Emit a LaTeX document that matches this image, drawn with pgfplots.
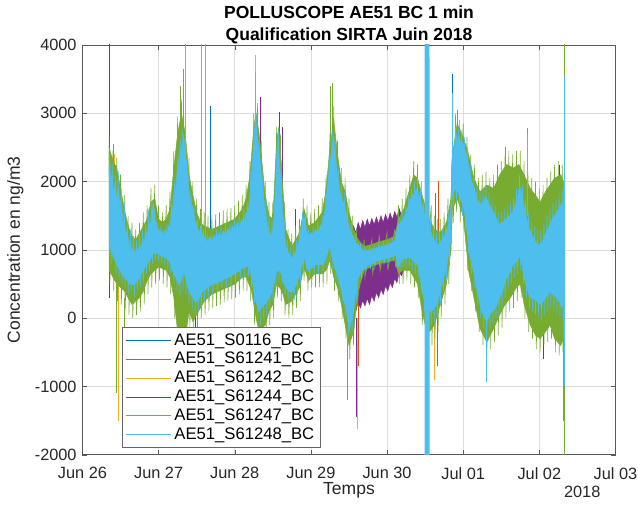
\documentclass[border=0pt]{standalone}
\usepackage{fontspec}
\setmainfont{Liberation Sans}
\usepackage{pgfplots}
\pgfplotsset{compat=1.18}
\definecolor{mBlue}{rgb}{0,0.447,0.741}
\definecolor{mOrange}{rgb}{0.85,0.325,0.098}
\definecolor{mYellow}{rgb}{0.929,0.694,0.125}
\definecolor{mPurple}{rgb}{0.494,0.184,0.556}
\definecolor{mGreen}{rgb}{0.466,0.674,0.188}
\definecolor{mCyan}{rgb}{0.301,0.745,0.933}
\begin{document}
\begin{tikzpicture}
\path[use as bounding box] (-49.5pt,-30pt) rectangle (333.5pt,273pt);
\begin{axis}[
 at={(0pt,0pt)}, anchor=south west,
 scale only axis, width=320pt, height=246pt,
 xmin=0, xmax=7, ymin=-2000, ymax=4000,
 xtick={0,1,2,3,4,5,6,7},
 xticklabels={Jun 26,Jun 27,Jun 28,Jun 29,Jun 30,Jul 01,Jul 02,Jul 03},
 ytick={-2000,-1000,0,1000,2000,3000,4000},
 yticklabels={-2000,-1000,0,1000,2000,3000,4000},
 grid=major, major grid style={black!13, line width=0.4pt},
 tick align=inside, major tick length=3pt,
 axis line style={black!65}, tick style={black!65},
 ticklabel style={font=\fontsize{9.8}{12}\selectfont, text=black!85},
 xticklabel style={yshift=-4pt},
 xlabel={Temps}, ylabel={Concentration en ng/m3},
 label style={font=\fontsize{10.5}{12}\selectfont, text=black!85},
 xlabel style={yshift=5pt},
 title={POLLUSCOPE AE51 BC 1 min\\Qualification SIRTA Juin 2018},
 title style={font=\bfseries\fontsize{10.5}{13}\selectfont, align=center, yshift=-9pt},
 legend style={at={(0.075,0.017)}, anchor=south west, font=\fontsize{10}{11.5}\selectfont, draw=black!60, inner sep=1.5pt, row sep=-1.2pt},
 legend cell align=left,
 legend image code/.code={\draw[#1, line width=0.5pt] (0pt,0pt) -- (27pt,0pt);},
 unbounded coords=jump,
 clip=true,
]
% ---- blue S0116 spikes
\addplot[mBlue, line width=0.45pt, forget plot] coordinates {
(0.36,1500)(0.36,2400)(0.36,nan)
(1.68,1200)(1.68,3100)(1.68,nan)
(4.86,2000)(4.86,3580)(4.86,nan)
(5.72,600)(5.72,2100)(5.72,nan)
(6.33,300)(6.33,5000)};
% ---- orange S61241 spikes
\addplot[mOrange, line width=0.45pt, forget plot] coordinates {
(0.355,300)(0.355,5000)(0.355,nan)
(3.62,400)(3.62,-700)(3.62,nan)
(4.63,500)(4.63,1830)(4.63,nan)
(4.68,500)(4.68,2010)(4.68,nan)
(4.66,300)(4.66,-700)(4.66,nan)
(6.335,3000)(6.335,5000)};
% ---- yellow S61242 spikes
\addplot[mYellow, line width=0.45pt, forget plot] coordinates {
(0.47,800)(0.47,-1500)(0.47,nan)
(0.42,1500)(0.42,2400)(0.42,nan)
(2.27,2500)(2.27,3850)(2.27,nan)
(3.61,0)(3.61,-1630)(3.61,nan)
(4.62,300)(4.62,-900)};
% ---- purple S61244
\addplot[mPurple, fill=mPurple, line width=0.3pt, forget plot] coordinates {
(3.50,1300)(3.53,1200)(3.56,1350)(3.59,1250)(3.62,1400)(3.65,1300)(3.68,1430)(3.71,1330)(3.74,1450)(3.77,1350)(3.80,1460)(3.83,1370)(3.86,1480)(3.89,1380)(3.92,1500)(3.95,1400)(3.98,1520)(4.01,1420)(4.04,1540)(4.07,1440)(4.10,1560)(4.13,1480)(4.16,1600)(4.19,1500)(4.22,1550)
(4.22,700)(4.19,620)(4.16,680)(4.13,520)(4.10,580)(4.07,450)(4.04,520)(4.01,400)(3.98,470)(3.95,350)(3.92,420)(3.89,300)(3.86,380)(3.83,250)(3.80,330)(3.77,200)(3.74,290)(3.71,180)(3.68,260)(3.65,150)(3.62,230)(3.59,100)(3.56,200)(3.53,50)(3.50,150)} -- cycle;
\addplot[mPurple, line width=0.45pt, forget plot] coordinates {
(0.36,300)(0.36,5000)(0.36,nan)
(1.42,700)(1.42,1900)(1.42,nan)
(2.33,1500)(2.33,3240)(2.33,nan)
(2.58,1500)(2.58,3020)(2.58,nan)
(2.62,1500)(2.62,2800)(2.62,nan)
(2.80,1000)(2.80,1600)(2.80,nan)
(3.60,0)(3.60,-1450)(3.60,nan)
(1.48,200)(1.48,-300)(1.48,nan)
(5.62,1500)(5.62,2150)(5.62,nan)
(6.20,1500)(6.20,2200)(6.20,nan)
(6.26,1500)(6.26,2250)(6.26,nan)
(6.05,0)(6.05,-600)};
% ---- green S61247
\addplot[mGreen, fill=mGreen, line width=0.3pt, forget plot] coordinates {
(0.35,2500)(0.40,2300)(0.45,2200)(0.50,1900)(0.55,1600)(0.60,1350)(0.65,1200)(0.70,1150)(0.75,1250)(0.80,1350)(0.85,1450)(0.90,1700)(0.95,1750)(1.00,1450)(1.05,1400)(1.10,1450)(1.15,1600)(1.20,2200)(1.25,2700)(1.30,3000)(1.35,2700)(1.40,2100)(1.45,1800)(1.50,1550)(1.55,1400)(1.60,1350)(1.70,1300)(1.80,1350)(1.90,1400)(2.00,1450)(2.10,1600)(2.15,1750)(2.20,2100)(2.25,2800)(2.28,3000)(2.32,2700)(2.40,1800)(2.45,1500)(2.50,1450)(2.55,2600)(2.58,2800)(2.62,2100)(2.67,1300)(2.75,1050)(2.85,1250)(2.91,1600)(2.97,1350)(3.05,1400)(3.15,1550)(3.20,1900)(3.25,2500)(3.30,2900)(3.35,2400)(3.40,2000)(3.45,1850)(3.50,1550)(3.56,1300)(3.62,1150)(3.70,1050)(3.80,1080)(3.90,1120)(4.00,1150)(4.10,1200)(4.15,1450)(4.22,1600)(4.30,1900)(4.35,2100)(4.40,2050)(4.46,1800)(4.50,1650)(4.56,1450)(4.62,1300)(4.70,1250)(4.78,1400)(4.84,1750)(4.86,2400)(4.92,2850)(5.00,2650)(5.07,2400)(5.14,2050)(5.22,1850)(5.31,1950)(5.40,1900)(5.48,2100)(5.57,2250)(5.66,2200)(5.73,2250)(5.80,2100)(5.88,1900)(5.95,1800)(6.01,1700)(6.08,1850)(6.14,1950)(6.20,2050)(6.28,2100)(6.32,2000)
(6.32,-300)(6.28,-400)(6.20,-300)(6.14,-100)(6.08,-200)(6.01,-300)(5.95,-250)(5.88,-100)(5.80,200)(5.75,500)(5.70,450)(5.62,300)(5.55,200)(5.48,50)(5.40,-150)(5.31,-350)(5.22,-150)(5.14,300)(5.07,700)(5.00,1500)(4.92,1750)(4.86,1600)(4.84,1000)(4.78,500)(4.70,200)(4.62,-100)(4.56,-200)(4.50,-100)(4.46,100)(4.40,500)(4.30,700)(4.20,700)(4.15,650)(4.10,850)(4.00,820)(3.90,800)(3.80,760)(3.70,700)(3.62,400)(3.56,-200)(3.50,-400)(3.45,-100)(3.40,200)(3.35,450)(3.30,600)(3.25,850)(3.20,700)(3.15,650)(3.05,650)(2.97,550)(2.91,750)(2.85,450)(2.75,250)(2.67,200)(2.62,400)(2.55,500)(2.50,200)(2.45,100)(2.40,-100)(2.32,-200)(2.28,0)(2.22,400)(2.15,600)(2.10,600)(2.00,500)(1.90,450)(1.80,400)(1.70,350)(1.60,250)(1.50,50)(1.45,-50)(1.40,100)(1.35,-300)(1.30,-600)(1.25,-200)(1.20,300)(1.15,600)(1.10,700)(1.00,750)(0.95,700)(0.90,650)(0.85,550)(0.80,400)(0.75,300)(0.70,250)(0.65,200)(0.60,300)(0.55,400)(0.50,450)(0.45,500)(0.40,600)(0.35,700)} -- cycle;
\addplot[mGreen, line width=0.35pt, forget plot] coordinates {
(0.35,2650)(0.36,500)(0.40,2450)(0.41,400)(0.45,2350)(0.46,250)(0.50,2100)(0.51,200)(0.55,1800)(0.56,100)(0.60,1500)(0.61,50)(0.65,1400)(0.66,0)(0.70,1300)(0.71,50)(0.75,1400)(0.76,100)(0.80,1550)(0.81,200)(0.85,1650)(0.86,350)(0.90,1900)(0.91,450)(0.95,1950)(0.96,500)(1.00,1650)(1.01,550)(1.05,1550)(1.06,500)(1.10,1650)(1.11,450)(1.15,1850)(1.16,350)(1.20,2450)(1.21,0)(1.25,2950)(1.26,-450)(1.30,3200)(1.31,-800)(1.35,2950)(1.36,-500)(1.40,2350)(1.41,-150)(1.45,2000)(1.46,-250)(1.50,1750)(1.51,-150)(1.55,1600)(1.56,0)(1.60,1550)(1.61,50)(1.65,1500)(1.66,100)(1.70,1500)(1.71,150)(1.75,1520)(1.76,180)(1.80,1550)(1.81,200)(1.85,1580)(1.86,230)(1.90,1600)(1.91,250)(1.95,1620)(1.96,280)(2.00,1650)(2.01,300)(2.05,1720)(2.06,350)(2.10,1800)(2.11,400)(2.15,1950)(2.16,400)(2.20,2300)(2.21,250)(2.25,3000)(2.26,-100)(2.30,3150)(2.31,-400)(2.35,2600)(2.36,-350)(2.40,2000)(2.41,-300)(2.45,1700)(2.46,-100)(2.50,1700)(2.51,0)(2.55,2800)(2.56,300)(2.60,2700)(2.61,250)(2.65,1700)(2.66,50)(2.70,1300)(2.71,0)(2.75,1250)(2.76,50)(2.80,1350)(2.81,150)(2.85,1450)(2.86,250)(2.90,1750)(2.91,550)(2.95,1650)(2.96,400)(3.00,1550)(3.01,450)(3.05,1600)(3.06,450)(3.10,1650)(3.11,450)(3.15,1750)(3.16,450)(3.20,2100)(3.21,500)(3.25,2700)(3.26,650)(3.30,3100)(3.31,400)(3.35,2600)(3.36,250)(3.40,2200)(3.41,0)(3.45,2050)(3.46,-300)(3.50,1750)(3.51,-600)(3.55,1500)(3.56,-400)(3.60,1300)(3.61,200)(3.70,1150)(3.71,600)(3.80,1150)(3.81,650)(3.90,1200)(3.91,700)(4.00,1250)(4.01,700)(4.10,1300)(4.11,750)(4.15,1650)(4.16,500)(4.20,1750)(4.21,500)(4.25,1900)(4.26,550)(4.30,2100)(4.31,500)(4.35,2300)(4.36,450)(4.40,2250)(4.41,300)(4.45,2000)(4.46,-100)(4.58,1650)(4.59,-400)(4.62,1500)(4.63,-300)(4.66,1450)(4.67,-200)(4.70,1450)(4.71,0)(4.75,1550)(4.76,200)(4.80,1750)(4.81,500)(4.86,2600)(4.87,1400)(4.90,3000)(4.91,1550)(4.95,2900)(4.96,1400)(5.00,2850)(5.01,1300)(5.05,2650)(5.06,700)(5.10,2400)(5.11,400)(5.15,2250)(5.16,100)(5.20,2050)(5.21,-200)(5.25,2100)(5.26,-400)(5.30,2150)(5.31,-550)(5.35,2050)(5.36,-450)(5.40,2100)(5.41,-350)(5.45,2250)(5.46,-250)(5.50,2300)(5.51,-150)(5.55,2400)(5.56,0)(5.60,2450)(5.61,100)(5.65,2400)(5.66,150)(5.70,2450)(5.71,250)(5.75,2450)(5.76,300)(5.80,2300)(5.81,0)(5.85,2150)(5.86,-200)(5.90,2050)(5.91,-300)(5.95,2000)(5.96,-450)(6.00,1900)(6.01,-500)(6.05,1950)(6.06,-400)(6.10,2050)(6.11,-350)(6.15,2150)(6.16,-300)(6.20,2250)(6.21,-500)(6.25,2300)(6.26,-550)(6.30,2250)(6.31,-500)};
\addplot[mGreen, line width=0.45pt, forget plot] coordinates {
(0.40,2000)(0.40,2550)(0.40,nan)
(0.45,500)(0.45,-1100)(0.45,nan)
(0.55,300)(0.55,-900)(0.55,nan)
(1.30,-500)(1.30,-1000)(1.30,nan)
(1.33,2000)(1.33,3650)(1.33,nan)
(1.28,2000)(1.28,3400)(1.28,nan)
(2.35,0)(2.35,-700)(2.35,nan)
(3.25,2000)(3.25,3400)(3.25,nan)
(3.28,2000)(3.28,3450)(3.28,nan)
(3.48,-300)(3.48,-1200)(3.48,nan)
(4.92,2500)(4.92,3050)(4.92,nan)
(5.84,1500)(5.84,2780)(5.84,nan)
(5.55,1800)(5.55,2500)(5.55,nan)
(6.31,-300)(6.31,-1500)(6.31,nan)
(6.332,-3000)(6.332,5000)};
% ---- cyan S61248
\addplot[mCyan, fill=mCyan, line width=0.3pt, forget plot] coordinates {
(0.35,2250)(0.36,1900)(0.37,2150)(0.38,1850)(0.39,2100)(0.41,1800)(0.43,2000)(0.45,1700)(0.47,1950)(0.49,1650)(0.51,1750)(0.53,1400)(0.55,1450)(0.57,1200)(0.59,1300)(0.61,1050)(0.63,1150)(0.65,950)(0.67,1050)(0.69,920)(0.71,1050)(0.73,950)(0.75,1100)(0.77,1000)(0.79,1180)(0.81,1080)(0.83,1300)(0.85,1200)(0.87,1450)(0.89,1350)(0.91,1550)(0.93,1700)(0.95,1450)(0.97,1400)(0.99,1250)(1.01,1300)(1.03,1200)(1.05,1280)(1.07,1180)(1.09,1300)(1.11,1200)(1.13,1350)(1.15,1300)(1.17,1650)(1.19,1550)(1.21,2000)(1.23,1850)(1.25,2350)(1.27,2200)(1.29,2600)(1.31,2450)(1.33,2700)(1.35,2350)(1.37,2300)(1.39,1900)(1.41,1850)(1.43,1600)(1.45,1650)(1.47,1400)(1.49,1420)(1.51,1250)(1.53,1300)(1.55,1180)(1.57,1250)(1.59,1150)(1.61,1200)(1.64,1100)(1.67,1200)(1.70,1120)(1.73,1220)(1.76,1150)(1.79,1250)(1.82,1180)(1.85,1280)(1.88,1200)(1.91,1320)(1.94,1250)(1.97,1350)(2.00,1280)(2.03,1400)(2.06,1330)(2.09,1450)(2.12,1400)(2.15,1550)(2.17,1500)(2.19,1700)(2.21,1900)(2.23,2300)(2.25,2600)(2.27,2900)(2.29,2700)(2.31,2550)(2.33,2350)(2.35,2100)(2.37,1900)(2.39,1650)(2.41,1500)(2.43,1350)(2.45,1300)(2.47,1200)(2.49,1250)(2.51,1400)(2.53,1700)(2.55,2400)(2.57,2650)(2.59,2200)(2.61,2000)(2.63,1550)(2.65,1250)(2.67,1080)(2.69,1000)(2.71,950)(2.73,900)(2.75,880)(2.77,920)(2.79,950)(2.81,1000)(2.83,1080)(2.85,1150)(2.87,1300)(2.89,1400)(2.91,1500)(2.93,1380)(2.95,1250)(2.97,1180)(3.00,1250)(3.03,1200)(3.06,1300)(3.09,1250)(3.12,1350)(3.15,1380)(3.18,1550)(3.20,1750)(3.22,1950)(3.24,2150)(3.26,2350)(3.28,2550)(3.30,2650)(3.32,2400)(3.34,2200)(3.36,2000)(3.38,1850)(3.40,1800)(3.42,1700)(3.44,1680)(3.46,1550)(3.48,1450)(3.50,1350)(3.53,1250)(3.56,1180)(3.59,1100)(3.62,1080)(3.65,1030)(3.68,1000)(3.71,980)(3.74,1000)(3.77,970)(3.80,1020)(3.83,990)(3.86,1040)(3.89,1010)(3.92,1060)(3.95,1030)(3.98,1080)(4.01,1050)(4.04,1100)(4.07,1080)(4.10,1130)(4.12,1200)(4.14,1380)(4.16,1350)(4.18,1420)(4.20,1400)(4.22,1480)(4.24,1500)(4.26,1600)(4.28,1650)(4.30,1750)(4.32,1720)(4.34,1820)(4.36,1800)(4.38,1900)(4.40,1880)(4.42,1800)(4.44,1750)(4.46,1650)(4.48,1550)(4.50,1500)(4.56,1300)(4.58,1250)(4.60,1180)(4.62,1150)(4.64,1100)(4.66,1070)(4.68,1100)(4.70,1120)(4.72,1150)(4.74,1180)(4.76,1230)(4.78,1280)(4.80,1350)(4.82,1450)(4.84,1650)(4.85,2250)(4.87,2400)(4.89,2550)(4.91,2700)(4.93,2600)(4.95,2650)(4.97,2550)(4.99,2580)(5.01,2500)(5.03,2450)(5.05,2350)(5.07,2250)(5.09,2100)(5.11,2000)(5.13,1950)(5.15,1880)(5.17,1800)(5.19,1720)(5.21,1680)(5.23,1650)(5.25,1700)(5.27,1720)(5.29,1780)(5.31,1750)(5.33,1700)(5.35,1650)(5.37,1600)(5.39,1570)(5.41,1520)(5.43,1480)(5.45,1420)(5.47,1380)(5.50,1390)(5.53,1420)(5.56,1450)(5.59,1480)(5.62,1520)(5.65,1560)(5.68,1650)(5.71,1750)(5.73,1880)(5.75,1900)(5.77,1800)(5.79,1700)(5.81,1600)(5.83,1480)(5.85,1380)(5.87,1300)(5.90,1220)(5.93,1150)(5.96,1100)(5.99,1080)(6.02,1080)(6.05,1150)(6.08,1230)(6.11,1300)(6.14,1380)(6.17,1450)(6.20,1500)(6.23,1550)(6.26,1620)(6.29,1680)(6.32,1700)
(6.32,200)(6.29,150)(6.26,250)(6.23,300)(6.20,320)(6.17,350)(6.14,390)(6.11,330)(6.08,300)(6.05,250)(6.02,200)(5.99,220)(5.96,250)(5.93,280)(5.90,290)(5.87,320)(5.85,400)(5.83,450)(5.81,550)(5.79,650)(5.77,800)(5.75,930)(5.73,880)(5.71,850)(5.68,800)(5.65,780)(5.62,680)(5.59,620)(5.56,560)(5.53,450)(5.50,350)(5.47,280)(5.45,220)(5.43,180)(5.41,120)(5.39,100)(5.37,80)(5.35,50)(5.33,0)(5.31,-50)(5.29,-20)(5.27,30)(5.25,80)(5.23,150)(5.21,250)(5.19,350)(5.17,450)(5.15,600)(5.13,700)(5.11,800)(5.09,900)(5.07,1050)(5.05,1250)(5.03,1450)(5.01,1600)(4.99,1680)(4.97,1720)(4.95,1780)(4.93,1850)(4.91,1900)(4.89,1880)(4.87,1820)(4.85,1750)(4.84,1200)(4.82,1000)(4.80,880)(4.78,750)(4.76,650)(4.74,580)(4.72,480)(4.70,400)(4.68,300)(4.66,200)(4.64,180)(4.62,150)(4.60,120)(4.58,100)(4.56,100)(4.50,200)(4.48,300)(4.46,400)(4.44,550)(4.42,680)(4.40,780)(4.38,800)(4.36,820)(4.34,850)(4.32,870)(4.30,880)(4.28,890)(4.26,880)(4.24,870)(4.22,880)(4.20,860)(4.18,820)(4.16,780)(4.14,740)(4.12,920)(4.10,910)(4.07,900)(4.04,890)(4.01,880)(3.98,870)(3.95,860)(3.92,850)(3.89,840)(3.86,830)(3.83,810)(3.80,790)(3.77,780)(3.74,760)(3.71,730)(3.68,700)(3.65,650)(3.62,580)(3.59,400)(3.56,100)(3.53,-50)(3.50,-200)(3.48,0)(3.46,150)(3.44,220)(3.42,300)(3.40,400)(3.38,500)(3.36,580)(3.34,650)(3.32,720)(3.30,780)(3.28,880)(3.26,1000)(3.24,1050)(3.22,950)(3.20,900)(3.18,820)(3.15,780)(3.12,790)(3.09,780)(3.06,780)(3.03,750)(3.00,730)(2.97,680)(2.95,750)(2.93,820)(2.91,880)(2.89,800)(2.87,720)(2.85,620)(2.83,560)(2.81,500)(2.79,450)(2.77,400)(2.75,390)(2.73,390)(2.71,400)(2.69,420)(2.67,450)(2.65,500)(2.63,550)(2.61,650)(2.59,680)(2.57,700)(2.55,680)(2.53,580)(2.51,480)(2.49,390)(2.47,330)(2.45,300)(2.43,260)(2.41,220)(2.39,200)(2.37,170)(2.35,150)(2.33,120)(2.31,100)(2.29,200)(2.27,280)(2.25,390)(2.23,550)(2.21,650)(2.19,750)(2.17,760)(2.15,750)(2.12,740)(2.09,720)(2.06,690)(2.03,670)(2.00,650)(1.97,630)(1.94,610)(1.91,590)(1.88,580)(1.85,560)(1.82,540)(1.79,530)(1.76,510)(1.73,500)(1.70,490)(1.67,470)(1.64,450)(1.61,420)(1.59,400)(1.57,380)(1.55,320)(1.53,280)(1.51,250)(1.49,240)(1.47,260)(1.45,300)(1.43,330)(1.41,380)(1.39,420)(1.37,500)(1.35,600)(1.33,680)(1.31,600)(1.29,520)(1.27,490)(1.25,530)(1.23,580)(1.21,620)(1.19,670)(1.17,720)(1.15,820)(1.13,850)(1.11,870)(1.09,880)(1.07,900)(1.05,910)(1.03,920)(1.01,930)(0.99,940)(0.97,950)(0.95,960)(0.93,940)(0.91,900)(0.89,860)(0.87,820)(0.85,790)(0.83,760)(0.81,720)(0.79,680)(0.77,640)(0.75,590)(0.73,560)(0.71,530)(0.69,510)(0.67,490)(0.65,490)(0.63,500)(0.61,520)(0.59,550)(0.57,580)(0.55,600)(0.53,630)(0.51,660)(0.49,700)(0.47,740)(0.45,780)(0.43,840)(0.41,900)(0.39,950)(0.37,1000)(0.35,1070)} -- cycle;
\addplot[mCyan, line width=0.35pt, forget plot] coordinates {
(0.35,2400)(0.36,900)(0.37,2250)(0.38,800)(0.39,2300)(0.40,850)(0.43,2100)(0.44,650)(0.47,2150)(0.48,600)(0.51,1900)(0.52,500)(0.55,1700)(0.56,450)(0.59,1400)(0.60,350)(0.63,1300)(0.64,400)(0.67,1200)(0.68,300)(0.71,1150)(0.72,420)(0.75,1250)(0.76,450)(0.79,1300)(0.80,520)(0.83,1400)(0.84,650)(0.87,1600)(0.88,700)(0.91,1700)(0.92,800)(0.95,1600)(0.96,850)(0.99,1400)(1.00,820)(1.03,1350)(1.04,800)(1.07,1300)(1.08,780)(1.11,1380)(1.12,700)(1.15,1450)(1.16,650)(1.19,1800)(1.20,500)(1.23,2100)(1.24,400)(1.27,2500)(1.28,300)(1.31,2750)(1.32,400)(1.35,2600)(1.36,350)(1.39,2100)(1.40,200)(1.43,1800)(1.44,100)(1.47,1600)(1.48,50)(1.51,1450)(1.52,100)(1.55,1350)(1.56,150)(1.59,1300)(1.60,250)(1.64,1250)(1.65,300)(1.70,1250)(1.71,350)(1.76,1300)(1.77,380)(1.82,1350)(1.83,420)(1.88,1380)(1.89,450)(1.94,1400)(1.95,480)(2.00,1450)(2.01,520)(2.06,1500)(2.07,560)(2.12,1600)(2.13,600)(2.17,1700)(2.18,620)(2.21,2150)(2.22,450)(2.25,2850)(2.26,200)(2.29,3000)(2.30,0)(2.33,2600)(2.34,-100)(2.37,2150)(2.38,0)(2.41,1750)(2.42,50)(2.45,1500)(2.46,150)(2.49,1450)(2.50,250)(2.53,2000)(2.54,450)(2.57,2750)(2.58,550)(2.61,2300)(2.62,500)(2.65,1450)(2.66,350)(2.69,1150)(2.70,250)(2.73,1050)(2.74,250)(2.77,1050)(2.78,250)(2.81,1150)(2.82,350)(2.85,1300)(2.86,480)(2.89,1550)(2.90,650)(2.93,1500)(2.94,700)(2.97,1300)(2.98,580)(3.03,1350)(3.04,630)(3.09,1400)(3.10,650)(3.15,1500)(3.16,650)(3.20,1950)(3.21,750)(3.24,2400)(3.25,850)(3.28,2750)(3.29,700)(3.32,2600)(3.33,550)(3.36,2200)(3.37,400)(3.40,2000)(3.41,200)(3.44,1850)(3.45,0)(3.48,1650)(3.49,-250)(3.53,1400)(3.54,-200)(3.59,1250)(3.60,250)(3.65,1100)(3.66,580)(3.71,1050)(3.72,680)(3.77,1050)(3.78,720)(3.83,1060)(3.84,750)(3.89,1080)(3.90,780)(3.95,1100)(3.96,800)(4.01,1120)(4.02,820)(4.07,1150)(4.08,840)(4.12,1300)(4.13,760)(4.16,1480)(4.17,680)(4.20,1550)(4.21,750)(4.24,1650)(4.25,750)(4.28,1800)(4.29,750)(4.32,1900)(4.33,700)(4.36,2000)(4.37,650)(4.40,2050)(4.41,600)(4.44,1900)(4.45,350)(4.48,1700)(4.49,100)(4.57,1450)(4.58,-100)(4.61,1350)(4.62,-50)(4.65,1250)(4.66,0)(4.69,1280)(4.70,200)(4.73,1300)(4.74,400)(4.77,1400)(4.78,550)(4.81,1550)(4.82,800)(4.86,2500)(4.87,1600)(4.90,2800)(4.91,1700)(4.94,2800)(4.95,1650)(4.98,2750)(4.99,1500)(5.02,2650)(5.03,1300)(5.06,2500)(5.07,950)(5.10,2250)(5.11,650)(5.14,2100)(5.15,450)(5.18,1950)(5.19,200)(5.22,1850)(5.23,0)(5.26,1900)(5.27,-150)(5.30,1950)(5.31,-250)(5.34,1850)(5.35,-150)(5.38,1750)(5.39,-100)(5.42,1650)(5.43,0)(5.46,1550)(5.47,50)(5.50,1550)(5.51,150)(5.54,1600)(5.55,300)(5.58,1650)(5.59,420)(5.62,1700)(5.63,500)(5.66,1750)(5.67,600)(5.70,1900)(5.71,650)(5.74,2100)(5.75,700)(5.78,1950)(5.79,500)(5.82,1750)(5.83,300)(5.86,1550)(5.87,150)(5.90,1400)(5.91,100)(5.94,1350)(5.95,50)(5.98,1300)(5.99,0)(6.02,1300)(6.03,-50)(6.06,1400)(6.07,50)(6.10,1500)(6.11,100)(6.14,1600)(6.15,150)(6.18,1700)(6.19,100)(6.22,1750)(6.23,50)(6.26,1850)(6.27,0)(6.30,1900)(6.31,-50)};
\addplot[mCyan, line width=0.5pt, forget plot] coordinates {
(1.35,1500)(1.35,5000)(1.35,nan)
(1.56,1000)(1.56,5000)(1.56,nan)
(1.61,1000)(1.61,5000)(1.61,nan)
(2.27,2800)(2.27,3600)(2.27,nan)
(2.57,2500)(2.57,2750)(2.57,nan)
(4.86,2000)(4.86,3300)(4.86,nan)
(5.30,0)(5.30,-930)(5.30,nan)
(5.84,1500)(5.84,2700)(5.84,nan)
(6.33,-1000)(6.33,3550)};
\addplot[mCyan, line width=0.8pt, forget plot] coordinates {
(4.500,5000)(4.504,-3000)(4.508,5000)(4.512,-3000)(4.516,5000)(4.520,-3000)(4.524,5000)(4.528,-3000)(4.532,5000)(4.536,-3000)(4.540,5000)(4.544,-3000)(4.548,5000)(4.552,-3000)};
% ---- legend
\addlegendimage{mBlue}\addlegendentry{AE51\_S0116\_BC}
\addlegendimage{mOrange}\addlegendentry{AE51\_S61241\_BC}
\addlegendimage{mYellow}\addlegendentry{AE51\_S61242\_BC}
\addlegendimage{mPurple}\addlegendentry{AE51\_S61244\_BC}
\addlegendimage{mGreen}\addlegendentry{AE51\_S61247\_BC}
\addlegendimage{mCyan}\addlegendentry{AE51\_S61248\_BC}
\end{axis}
\node[font=\fontsize{9.8}{12}\selectfont, text=black!85] at (300pt,-22pt) {2018};
\end{tikzpicture}
\end{document}
